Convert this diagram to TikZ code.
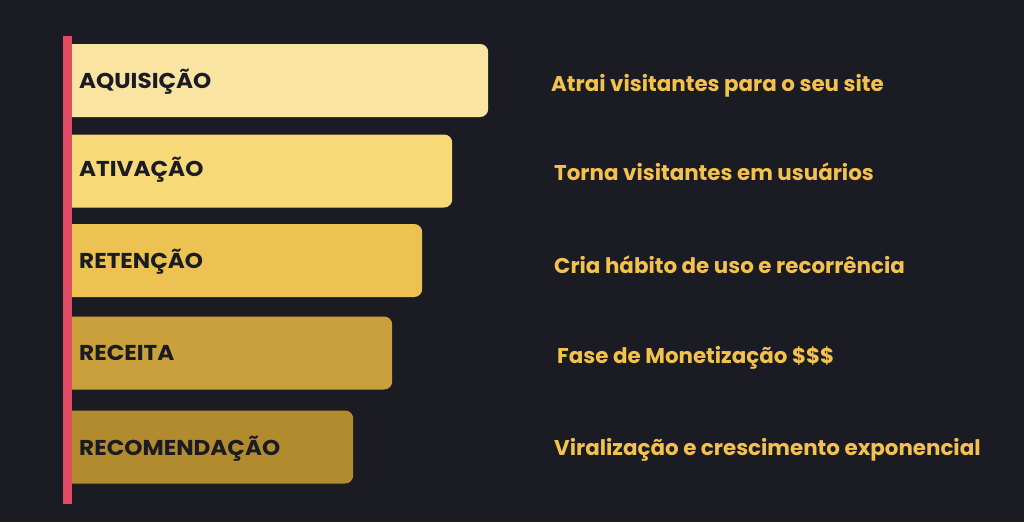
\documentclass[tikz,border=0pt]{standalone}
\usepackage{fontspec}
\setmainfont{Poppins}
\newfontfamily\lblfont[FakeStretch=1.075]{Poppins}
\definecolor{bg}{HTML}{1B1B24}
\definecolor{redbar}{HTML}{E04A62}
\definecolor{cA}{HTML}{F9E4A2}
\definecolor{cB}{HTML}{F8D977}
\definecolor{cC}{HTML}{ECC352}
\definecolor{cD}{HTML}{C9A03B}
\definecolor{cE}{HTML}{B28B2F}
\definecolor{gold}{HTML}{F2C14E}
\definecolor{ink}{HTML}{1B1B24}
\tikzset{
  stage/.style={rectangle, rounded corners=8pt, anchor=west, minimum height=73pt, inner sep=0pt, draw=none},
  lbl/.style={anchor=base west, inner sep=0pt, text=ink, font=\lblfont\fontsize{21.5}{24}\selectfont\bfseries},
  desc/.style={anchor=base west, inner sep=0pt, text=gold, font=\fontsize{21.4}{24}\selectfont\bfseries},
}
\begin{document}
\begin{tikzpicture}[x=1pt,y=-1pt]
\fill[bg] (0,0) rectangle (1024,522);
\useasboundingbox (0,0) rectangle (1024,522);
\node[stage, fill=cA, minimum width=425pt] (b1) at (63,80.5) {};
\node[stage, fill=cB, minimum width=389pt] (b2) at (63,171) {};
\node[stage, fill=cC, minimum width=359pt] (b3) at (63,260.5) {};
\node[stage, fill=cD, minimum width=329pt] (b4) at (63,353) {};
\node[stage, fill=cE, minimum width=290pt] (b5) at (63,447) {};
\node[rectangle, fill=redbar, anchor=north west, minimum width=9pt, minimum height=468pt, inner sep=0pt] (rb) at (63,36) {};
\node[lbl] (l1) at (79,88.3) {AQUISIÇÃO};
\node[lbl] (l2) at (79,176.7) {ATIVAÇÃO};
\node[lbl] (l3) at (79,268) {RETENÇÃO};
\node[lbl] (l4) at (79,360) {RECEITA};
\node[lbl] (l5) at (79,455) {RECOMENDAÇÃO};
\node[desc] (d1) at (551,91.5) {Atrai visitantes para o seu site};
\node[desc] (d2) at (554,180.7) {Torna visitantes em usuários};
\node[desc] (d3) at (554,273.3) {Cria hábito de uso e recorrência};
\node[desc] (d4) at (557,363.3) {Fase de Monetização \$\$\$};
\node[desc] (d5) at (554,455.7) {Viralização e crescimento exponencial};
\end{tikzpicture}
\end{document}
